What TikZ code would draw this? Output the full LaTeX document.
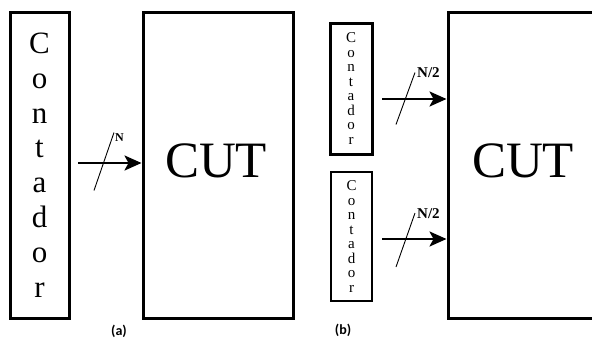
\documentclass[tikz,border=0pt]{standalone}
\usepackage{fontspec}
\setmainfont{Liberation Serif}
\newfontfamily\capfont{Carlito}
\usetikzlibrary{arrows.meta,calc}
\begin{document}
\begin{tikzpicture}[x=1pt,y=-1pt,
  bigbox/.style={draw,line width=3pt,inner sep=0pt,anchor=center},
  vtext/.style={align=center},
  bus/.style={line width=2.6pt,-{Stealth[length=17pt,width=15pt,inset=4pt]}},
  slash/.style={line width=0.9pt},
  buslabel/.style={inner sep=0pt,font=\bfseries\fontsize{12}{13}\selectfont},
  caption/.style={inner sep=0pt,font=\capfont\bfseries\fontsize{14}{16}\selectfont}]
\useasboundingbox (0,0) rectangle (592,341);
\fill[white] (0,0) rectangle (592,341);
% panel (a)
\node[bigbox,minimum width=59pt,minimum height=306pt,vtext,font=\fontsize{31}{34.8}\selectfont] (ca) at (39.5,165) {C\\o\\n\\t\\a\\d\\o\\r};
\node[bigbox,minimum width=150pt,minimum height=306pt] (cuta) at (218,165) {};
\node[font=\fontsize{51}{55}\selectfont] (cutatext) at (216,161) {CUT};
\coordinate (a1) at (78,163);
\draw[bus] (a1) -- (a1 -| cuta.west);
\coordinate (ma) at (104,161.5);
\draw[slash] ($(ma)+(-10,29)$) -- ($(ma)+(10,-29)$);
\node[buslabel,anchor=south west] (na) at (115,142) {N};
\node[caption] (capa) at (119,331) {(a)};
% panel (b)
\node[bigbox,minimum width=42pt,minimum height=131pt,vtext,font=\fontsize{15}{14.5}\selectfont] (cb1) at (351,88.5) {C\\o\\n\\t\\a\\d\\o\\r};
\node[draw,line width=2.2pt,inner sep=0pt,minimum width=41pt,minimum height=129pt,vtext,font=\fontsize{15}{14.5}\selectfont] (cb2) at (351.5,236.5) {C\\o\\n\\t\\a\\d\\o\\r};
\node[bigbox,minimum width=160pt,minimum height=306pt] (cutb) at (528,165) {};
\node[font=\fontsize{51}{55}\selectfont] (cutbtext) at (523,161) {CUT};
\coordinate (b1) at (382,99);
\coordinate (b2) at (382,239);
\draw[bus] (b1) -- (b1 -| cutb.west);
\draw[bus] (b2) -- (b2 -| cutb.west);
\coordinate (mb1) at (405.5,98.5);
\coordinate (mb2) at (405.5,240);
\draw[slash] ($(mb1)+(-9.5,26)$) -- ($(mb1)+(9.5,-26)$);
\draw[slash] ($(mb2)+(-9.5,27)$) -- ($(mb2)+(9.5,-27)$);
\node[buslabel,anchor=south west,font=\bfseries\fontsize{15}{16}\selectfont] (nb1) at (417,78) {N/2};
\node[buslabel,anchor=south west,font=\bfseries\fontsize{15}{16}\selectfont] (nb2) at (417,219) {N/2};
\node[caption] (capb) at (343,330) {(b)};
\end{tikzpicture}
\end{document}
